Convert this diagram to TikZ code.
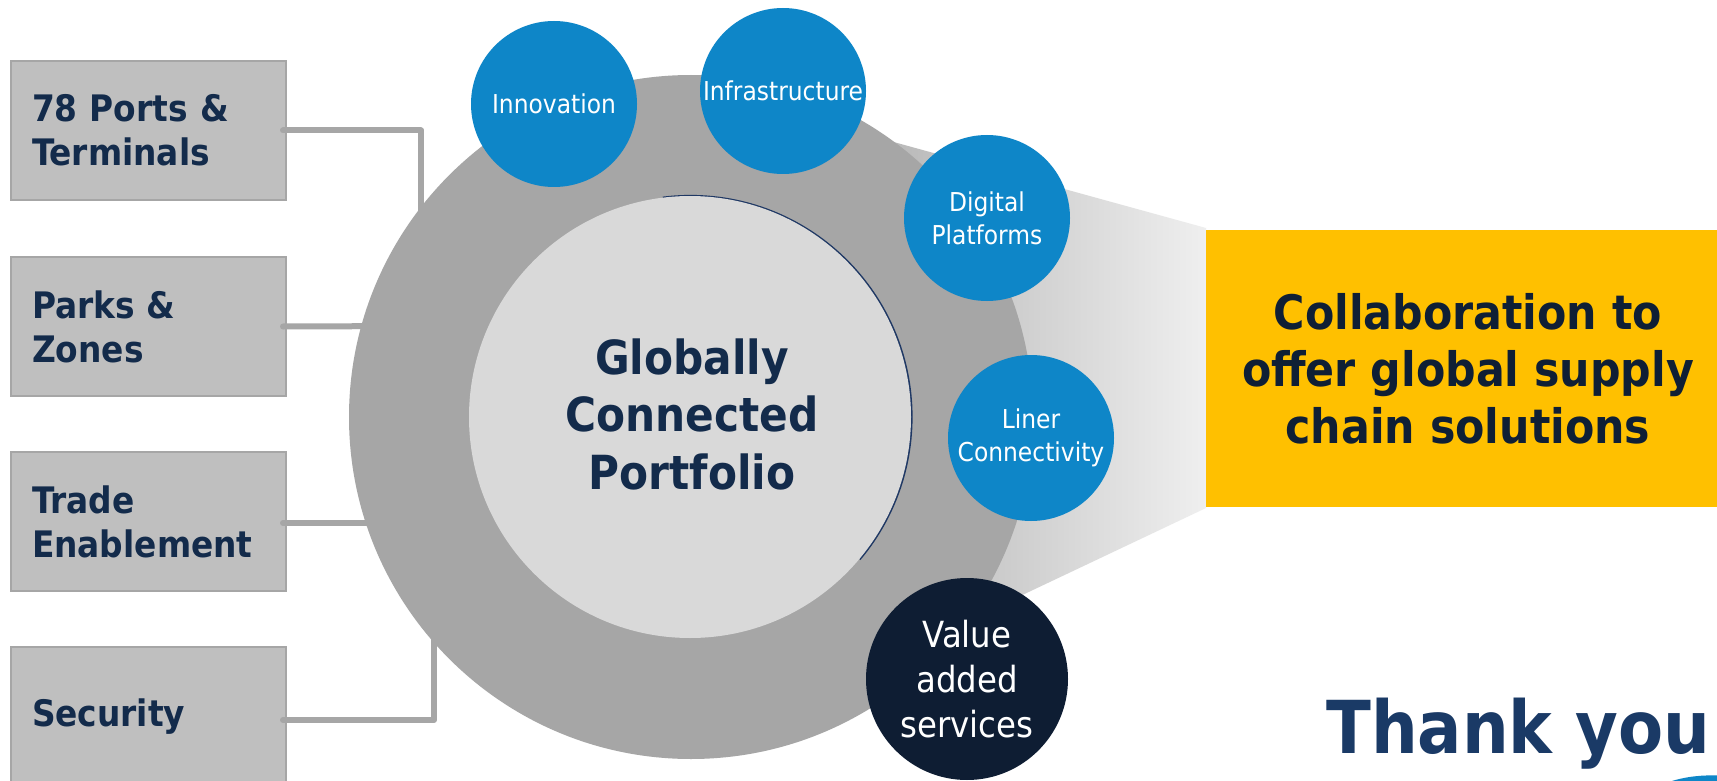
\documentclass[tikz,border=0pt]{standalone}
\usepackage{fontspec}
\setmainfont{DejaVu Sans}
\newfontfamily\cond{DejaVu Sans Condensed}
\definecolor{boxfill}{HTML}{BFBFBF}
\definecolor{boxline}{HTML}{A6A6A6}
\definecolor{navytext}{HTML}{132B4B}
\definecolor{ringgray}{HTML}{A6A6A6}
\definecolor{coregray}{HTML}{D9D9D9}
\definecolor{coreedge}{HTML}{1F3864}
\definecolor{bubblue}{HTML}{0E86C8}
\definecolor{bubdark}{HTML}{0E1D33}
\definecolor{collabyellow}{HTML}{FFC000}
\definecolor{collabtext}{HTML}{0F1F35}
\definecolor{tyblue}{HTML}{1A3A66}
\definecolor{funL}{HTML}{B2B2B2}
\definecolor{funR}{HTML}{EFEFEF}
\tikzset{
  pbox/.style={rectangle, fill=boxfill, draw=boxline, line width=2pt,
    minimum width=275pt, minimum height=139pt, inner xsep=21pt, inner ysep=0pt,
    text width=233pt, align=left, text=navytext,
    font=\cond\bfseries\fontsize{36.5}{44}\selectfont},
  conn/.style={draw=boxline, line width=6pt, line cap=round, line join=round},
  bub/.style={circle, fill=bubblue, minimum size=166pt, inner sep=0pt, text=white,
    align=center, font=\cond\fontsize{26}{33}\selectfont},
  bubd/.style={circle, fill=bubdark, minimum size=202pt, inner sep=0pt, text=white,
    align=center, font=\cond\fontsize{36}{45}\selectfont},
}
\begin{document}
\begin{tikzpicture}[x=1pt,y=-1pt]
\useasboundingbox (0,0) rectangle (1717,781);
\clip (0,0) rectangle (1717,781);
\fill[white] (0,0) rectangle (1717,781);

% funnel towards the yellow box
\shade[left color=funL, right color=funR] (850,130) -- (1206,228) -- (1206,508) -- (900,653) -- cycle;

% left boxes
\node[pbox] (b1) at (148.5,130.5) {78 Ports \&\\Terminals};
\node[pbox] (b2) at (148.5,326.5) {Parks \&\\Zones};
\node[pbox] (b3) at (148.5,521.5) {Trade\\Enablement};
\node[pbox] (b4) at (148.5,716.5) {Security};

% connectors (ends hidden by the ring)
\coordinate (j1) at (421,280);
\coordinate (j2) at (420,326);
\coordinate (j3) at (420,523);
\coordinate (j4) at (434,600);
\draw[conn] ([xshift=-4pt]b1.east) -| (j1);
\draw[conn] ([xshift=-4pt]b2.east) -- (j2);
\draw[conn] ([xshift=-4pt,yshift=-1.5pt]b3.east) -- (j3);
\draw[conn] ([xshift=-4pt,yshift=-3.5pt]b4.east) -| (j4);

% ring and core
\node[circle, fill=ringgray, minimum size=684pt, inner sep=0pt] (ring) at (691,417) {};
\begin{scope}
  \clip (690,417) -- (653,119) -- (1000,119) -- (1000,610) -- (920,610) -- cycle;
  \draw[coreedge, line width=2.2pt] (690.5,417) circle (221pt);
\end{scope}
\node[circle, fill=coregray, minimum size=442pt, inner sep=0pt] (core) at (690,417) {};
\node[align=center, inner sep=0pt, text=navytext,
  font=\cond\bfseries\fontsize{47}{57.5}\selectfont] (coretext)
  at ([xshift=2pt,yshift=3pt]core.center) {Globally\\Connected\\Portfolio};

% satellites
\node[bub] (inno) at (554,104) {Innovation};
\node[bub] (infra) at (783,91) {Infrastructure};
\node[bub] (digi) at (987,218) {Digital\\Platforms};
\node[bub] (liner) at (1031,438) {Liner\\Connectivity};
\node[bubd] (vas) at (967,679) {Value\\added\\services};

% yellow box
\node[rectangle, fill=collabyellow, minimum width=524pt, minimum height=277pt,
  inner sep=0pt, align=center, text=collabtext,
  font=\cond\bfseries\fontsize{47.5}{57}\selectfont] (collab) at (1468,368.5)
  {Collaboration to\\offer global supply\\chain solutions};

% thank you
\node[anchor=base west, inner sep=0pt, text=tyblue,
  font=\cond\bfseries\fontsize{73}{80}\selectfont] (ty) at (1326,753) {Thank you};
\fill[bubblue] (1672,781) .. controls (1688,776) and (1705,775) .. (1717,775.5) -- (1717,781) -- cycle;
\end{tikzpicture}
\end{document}
